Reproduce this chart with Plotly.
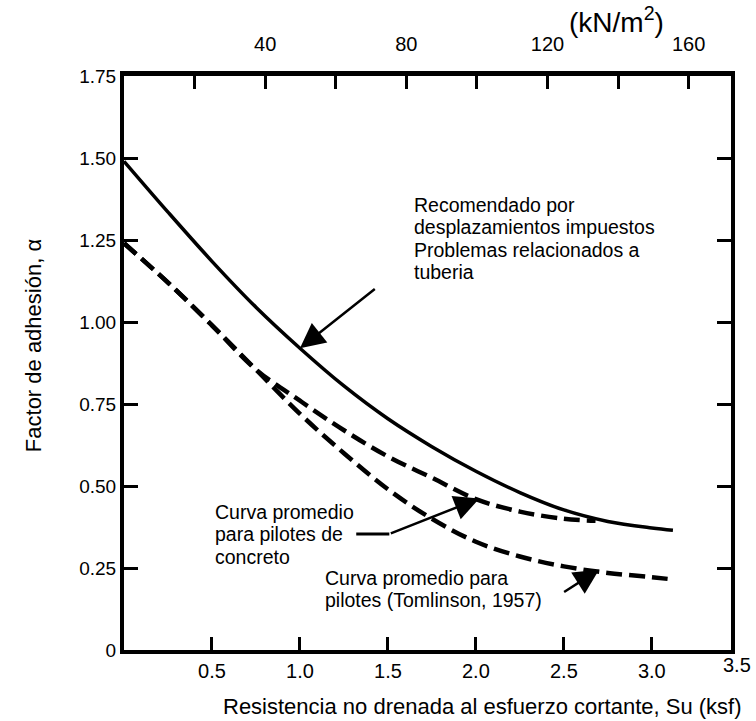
import plotly.graph_objects as go

# ---- data ----
su_recommended = [0, 0.25, 0.5, 0.75, 1.0, 1.25, 1.5, 1.75, 2.0, 2.25, 2.5, 2.75, 3.0, 3.12]
alpha_recommended = [1.49, 1.335, 1.185, 1.045, 0.92, 0.805, 0.705, 0.62, 0.545, 0.48, 0.427, 0.392, 0.372, 0.365]

su_concrete = [0, 0.25, 0.5, 0.75, 1.0, 1.25, 1.5, 1.75, 2.0, 2.25, 2.5, 2.68]
alpha_concrete = [1.24, 1.12, 0.99, 0.855, 0.76, 0.67, 0.59, 0.525, 0.46, 0.422, 0.40, 0.394]

su_tomlinson = [0, 0.25, 0.5, 0.75, 1.0, 1.25, 1.5, 1.75, 2.0, 2.25, 2.5, 2.75, 3.0, 3.12]
alpha_tomlinson = [1.24, 1.12, 0.99, 0.855, 0.72, 0.60, 0.49, 0.40, 0.33, 0.285, 0.255, 0.235, 0.222, 0.215]

x_tickvals = [0.5, 1.0, 1.5, 2.0, 2.5, 3.0]
x_ticktext = ["0.5", "1.0", "1.5", "2.0", "2.5", "3.0"]
x_end_label = "3.5"
y_tickvals = [0, 0.25, 0.5, 0.75, 1.0, 1.25, 1.5, 1.75]
y_ticktext = ["0", "0.25", "0.50", "0.75", "1.00", "1.25", "1.50", "1.75"]
top_tickvals = [40, 80, 120, 160]
top_ticktext = ["40", "80", "120", "160"]
top_minorvals = [20, 60, 100, 140]

# label texts (one entry per line)
label_recommended = ["Recomendado por", "desplazamientos impuestos",
                     "Problemas relacionados a", "tuberia"]
label_concrete = ["Curva promedio", "para pilotes de", "concreto"]
label_tomlinson = ["Curva promedio para", "pilotes (Tomlinson, 1957)"]

# annotation arrows: (head_x, head_y, tail_x, tail_y) in data units
arrow_recommended = (1.0, 0.92, 1.434, 1.104)
arrow_concrete_bend = (1.32, 0.354, 1.508, 0.354)
arrow_concrete = (2.02, 0.462, 1.508, 0.354)
arrow_tomlinson = (2.70, 0.245, 2.493, 0.174)

FONT = "Liberation Sans, Arial, Helvetica, sans-serif"
NARROW = "Liberation Sans Narrow, Arial Narrow, Liberation Sans, Arial, sans-serif"
LINE_STEP = 0.068  # spacing between text lines, in alpha units

fig = go.Figure()
fig.add_trace(go.Scatter(x=su_recommended, y=alpha_recommended, mode="lines",
                         line=dict(color="black", width=3.5, shape="spline"),
                         showlegend=False, hoverinfo="skip"))
fig.add_trace(go.Scatter(x=su_concrete, y=alpha_concrete, mode="lines",
                         line=dict(color="black", width=4.5, dash="16px,7px", shape="spline"),
                         showlegend=False, hoverinfo="skip"))
fig.add_trace(go.Scatter(x=su_tomlinson, y=alpha_tomlinson, mode="lines",
                         line=dict(color="black", width=4.5, dash="16px,7px", shape="spline"),
                         showlegend=False, hoverinfo="skip"))
# carrier trace for the top (kN/m2) axis
fig.add_trace(go.Scatter(x=top_tickvals, y=[None] * len(top_tickvals), xaxis="x2",
                         mode="lines", showlegend=False, hoverinfo="skip"))

annotations = []
for (hx, hy, tx, ty) in [arrow_recommended, arrow_concrete, arrow_tomlinson]:
    annotations.append(dict(x=hx, y=hy, ax=tx, ay=ty, xref="x", yref="y", axref="x", ayref="y",
                            text="", showarrow=True, arrowhead=2, arrowsize=2.0,
                            arrowwidth=2.5, arrowcolor="black", standoff=0))


def add_lines(lines, x0, y_first):
    for i, t in enumerate(lines):
        annotations.append(dict(x=x0, y=y_first - i * LINE_STEP, xref="x", yref="y",
                                xanchor="left", yanchor="middle", align="left",
                                showarrow=False, text=t,
                                font=dict(family=FONT, size=19.5, color="black")))


add_lines(label_recommended, 1.637, 1.357)
add_lines(label_concrete, 0.506, 0.421)
add_lines(label_tomlinson, 1.131, 0.2195)

# axis titles
annotations.append(dict(x=0.591, y=-0.098, xref="paper", yref="paper", xanchor="center",
                        yanchor="middle", showarrow=False,
                        text="Resistencia no drenada al esfuerzo cortante, Su (ksf)",
                        font=dict(family=FONT, size=22, color="black")))
annotations.append(dict(x=-0.150, y=0.531, xref="paper", yref="paper", xanchor="center",
                        yanchor="middle", showarrow=False, textangle=-90,
                        text="Factor de adhesión, α",
                        font=dict(family=FONT, size=22, color="black")))
annotations.append(dict(x=0.812, y=1.097, xref="paper", yref="paper", xanchor="center",
                        yanchor="middle", showarrow=False,
                        text="(kN/m<sup>2</sup>)",
                        font=dict(family=FONT, size=28, color="black")))
annotations.append(dict(x=1.01, y=-0.027, xref="paper", yref="paper", xanchor="center",
                        yanchor="middle", showarrow=False, text=x_end_label,
                        font=dict(family=NARROW, size=20, color="black")))

fig.update_layout(
    width=756, height=721,
    margin=dict(l=124, r=25, t=76, b=71),
    paper_bgcolor="white", plot_bgcolor="white",
    showlegend=False,
    annotations=annotations,
    shapes=[dict(type="line", xref="x", yref="y",
                 x0=arrow_concrete_bend[0], y0=arrow_concrete_bend[1],
                 x1=arrow_concrete_bend[2], y1=arrow_concrete_bend[3],
                 line=dict(color="black", width=3))],
    xaxis=dict(range=[0, 3.45], showgrid=False, zeroline=False,
               showline=True, linecolor="black", linewidth=4, mirror=True,
               ticks="inside", ticklen=13, tickwidth=2.5, tickcolor="black",
               tickvals=x_tickvals, ticktext=x_ticktext,
               tickfont=dict(family=NARROW, size=20, color="black")),
    xaxis2=dict(range=[0, 172], overlaying="x", side="top", anchor="y",
                showgrid=False, zeroline=False, showline=True, linecolor="black", linewidth=5,
                ticks="inside", ticklen=13, tickwidth=2.5, tickcolor="black",
                tickvals=top_tickvals, ticktext=top_ticktext, ticklabelstandoff=12,
                minor=dict(tickmode="array", tickvals=top_minorvals, ticks="inside",
                           ticklen=13, tickwidth=2.5, tickcolor="black", showgrid=False),
                tickfont=dict(family=NARROW, size=20, color="black")),
    yaxis=dict(range=[0, 1.75], showgrid=False, zeroline=False,
               showline=True, linecolor="black", linewidth=4, mirror="ticks",
               ticks="inside", ticklen=14, tickwidth=2.5, tickcolor="black",
               tickvals=y_tickvals, ticktext=y_ticktext,
               tickfont=dict(family=FONT, size=19, color="black")),
)

fig.write_html("out.html")
